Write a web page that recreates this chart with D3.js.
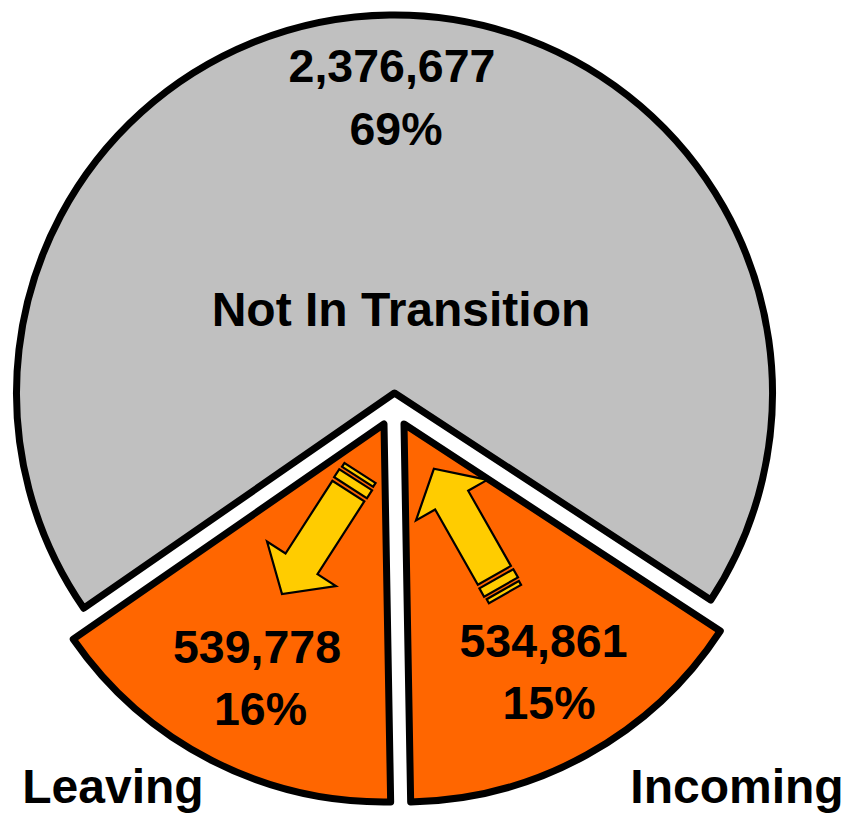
<!DOCTYPE html>
<html>
<head>
<meta charset="utf-8">
<title>Transition pie</title>
<style>
  body { margin: 0; background: #fff; }
  svg { display: block; }
  text { font-family: "Liberation Sans", Arial, sans-serif; font-weight: bold; fill: #000; text-anchor: middle; }
</style>
</head>
<body>
<div id="chart"></div>
<script src="https://cdn.jsdelivr.net/npm/d3@7"></script>
<script>
// chart values
var categories = ["Incoming", "Leaving", "Not In Transition"];
var counts = [534861, 539778, 2376677];
var percents = ["15%", "16%", "69%"];
var colors = ["#FF6600", "#FF6600", "#C0C0C0"];

var width = 846, height = 813, radius = 378;

var svg = d3.select("#chart").append("svg")
    .attr("width", width)
    .attr("height", height);

// the pie starts at the right hand corner of the incoming slice
var pie = d3.pie()
    .sort(null)
    .startAngle(123.2 * Math.PI / 180)
    .endAngle((123.2 + 360) * Math.PI / 180);

var arc = d3.arc().innerRadius(0).outerRadius(radius);

// each slice has its own apex because the pie is exploded
var apex = [[404, 424], [384, 424], [394.5, 393]];

svg.selectAll(".slice")
    .data(pie(counts))
  .enter().append("path")
    .attr("class", "slice")
    .attr("d", arc)
    .attr("transform", function(d, i) { return "translate(" + apex[i] + ")"; })
    .attr("fill", function(d, i) { return colors[i]; })
    .attr("stroke", "#000")
    .attr("stroke-width", 7)
    .attr("stroke-linejoin", "round");

// arrow shape, pointing along +x with the tail at 0
var line = d3.line();
var arrowHead = [[108, -19], [108, -41], [144, 0], [108, 41], [108, 19], [21.5, 19], [21.5, -19]];
var arrowBands = [[[8, -19.5], [17.5, -19.5], [17.5, 19.5], [8, 19.5]], [[0, -18.5], [4.5, -18.5], [4.5, 18.5], [0, 18.5]]];

function drawArrow(x, y, angle) {
  var g = svg.append("g")
      .attr("transform", "translate(" + x + "," + y + ") rotate(" + angle + ")")
      .attr("fill", "#FFCC00")
      .attr("stroke", "#000")
      .attr("stroke-width", 2.2);
  g.append("path").attr("d", line(arrowHead) + "Z");
  g.selectAll(".band")
      .data(arrowBands)
    .enter().append("path")
      .attr("class", "band")
      .attr("d", function(d) { return line(d) + "Z"; });
}

drawArrow(360, 473, 122.8);
drawArrow(505, 594, 240.4);

// value labels: count x, count y, percent x, percent y
var fmt = d3.format(",");
var labelPos = [[543.5, 657, 549, 719], [257, 663, 260.5, 725], [392, 82, 396, 145]];

counts.forEach(function(c, i) {
  svg.append("text")
      .attr("x", labelPos[i][0]).attr("y", labelPos[i][1])
      .attr("font-size", 46.5)
      .text(fmt(c));
  svg.append("text")
      .attr("x", labelPos[i][2]).attr("y", labelPos[i][3])
      .attr("font-size", 46.5)
      .text(percents[i]);
});

// category names
var namePos = [[737, 803], [113, 803], [401, 326]];

categories.forEach(function(name, i) {
  svg.append("text")
      .attr("x", namePos[i][0]).attr("y", namePos[i][1])
      .attr("font-size", 48)
      .text(name);
});
</script>
</body>
</html>
